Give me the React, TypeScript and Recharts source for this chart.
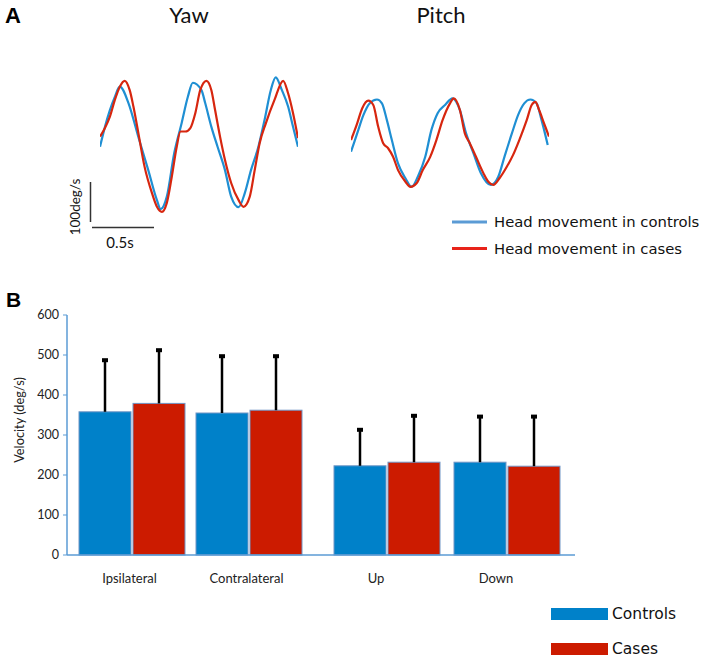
import React from 'react';
import { LineChart, Line, BarChart, Bar, XAxis, YAxis } from 'recharts';

// ---------- Panel A: head-velocity traces (t in s, v in deg/s) ----------
const yawControls = [
  { t: 0.0, v: -7 }, { t: 0.04, v: 44 }, { t: 0.08, v: 87 }, { t: 0.12, v: 121 }, { t: 0.16, v: 147 },
  { t: 0.23, v: 105 }, { t: 0.31, v: 18 }, { t: 0.39, v: -67 }, { t: 0.46, v: -144 }, { t: 0.49, v: -167 },
  { t: 0.54, v: -135 }, { t: 0.6, v: -23 }, { t: 0.66, v: 54 }, { t: 0.71, v: 121 }, { t: 0.75, v: 157 },
  { t: 0.82, v: 138 }, { t: 0.85, v: 105 }, { t: 0.9, v: 44 }, { t: 0.95, v: -7 }, { t: 1.01, v: -67 },
  { t: 1.06, v: -135 }, { t: 1.12, v: -162 }, { t: 1.17, v: -126 }, { t: 1.22, v: -67 }, { t: 1.28, v: -7 },
  { t: 1.33, v: 62 }, { t: 1.38, v: 138 }, { t: 1.42, v: 171 }, { t: 1.47, v: 138 }, { t: 1.52, v: 96 },
  { t: 1.56, v: 44 }, { t: 1.6, v: -7 },
];
const yawCases = [
  { t: 0.0, v: 19 }, { t: 0.04, v: 41 }, { t: 0.08, v: 70 }, { t: 0.12, v: 113 }, { t: 0.16, v: 147 },
  { t: 0.2, v: 162 }, { t: 0.24, v: 138 }, { t: 0.27, v: 96 }, { t: 0.31, v: 28 }, { t: 0.36, v: -58 },
  { t: 0.42, v: -126 }, { t: 0.46, v: -161 }, { t: 0.5, v: -174 }, { t: 0.54, v: -151 }, { t: 0.58, v: -84 },
  { t: 0.62, v: -7 }, { t: 0.65, v: 32 }, { t: 0.69, v: 32 }, { t: 0.73, v: 41 }, { t: 0.77, v: 79 },
  { t: 0.81, v: 138 }, { t: 0.86, v: 162 }, { t: 0.9, v: 138 }, { t: 0.93, v: 87 }, { t: 0.97, v: 19 },
  { t: 1.01, v: -41 }, { t: 1.06, v: -100 }, { t: 1.12, v: -144 }, { t: 1.16, v: -161 }, { t: 1.21, v: -135 },
  { t: 1.25, v: -67 }, { t: 1.29, v: 2 }, { t: 1.34, v: 53 }, { t: 1.41, v: 113 }, { t: 1.48, v: 162 },
  { t: 1.52, v: 130 }, { t: 1.56, v: 79 }, { t: 1.6, v: 15 },
];
const pitchControls = [
  { t: 0.0, v: -25 }, { t: 0.05, v: 22 }, { t: 0.1, v: 69 }, { t: 0.15, v: 99 }, { t: 0.21, v: 109 },
  { t: 0.25, v: 99 }, { t: 0.29, v: 56 }, { t: 0.33, v: 5 }, { t: 0.38, v: -55 }, { t: 0.44, v: -93 },
  { t: 0.49, v: -115 }, { t: 0.54, v: -89 }, { t: 0.6, v: -38 }, { t: 0.65, v: 31 }, { t: 0.7, v: 74 },
  { t: 0.76, v: 95 }, { t: 0.82, v: 112 }, { t: 0.88, v: 82 }, { t: 0.93, v: 22 }, { t: 0.99, v: -29 },
  { t: 1.05, v: -80 }, { t: 1.13, v: -110 }, { t: 1.19, v: -89 }, { t: 1.24, v: -38 }, { t: 1.3, v: 22 },
  { t: 1.35, v: 69 }, { t: 1.4, v: 99 }, { t: 1.45, v: 109 }, { t: 1.5, v: 99 }, { t: 1.54, v: 56 },
  { t: 1.59, v: -8 },
];
const pitchCases = [
  { t: 0.0, v: 5 }, { t: 0.05, v: 48 }, { t: 0.09, v: 86 }, { t: 0.14, v: 106 }, { t: 0.18, v: 95 },
  { t: 0.22, v: 39 }, { t: 0.26, v: -3 }, { t: 0.3, v: -16 }, { t: 0.34, v: -38 }, { t: 0.38, v: -72 },
  { t: 0.44, v: -102 }, { t: 0.48, v: -115 }, { t: 0.53, v: -106 }, { t: 0.58, v: -72 }, { t: 0.64, v: -38 },
  { t: 0.69, v: 5 }, { t: 0.74, v: 56 }, { t: 0.8, v: 99 }, { t: 0.83, v: 112 }, { t: 0.88, v: 82 },
  { t: 0.92, v: 22 }, { t: 0.96, v: -3 }, { t: 1.01, v: -38 }, { t: 1.07, v: -80 }, { t: 1.11, v: -102 },
  { t: 1.15, v: -110 }, { t: 1.2, v: -93 }, { t: 1.26, v: -63 }, { t: 1.31, v: -33 }, { t: 1.36, v: 5 },
  { t: 1.42, v: 56 }, { t: 1.46, v: 95 }, { t: 1.49, v: 103 }, { t: 1.52, v: 82 }, { t: 1.56, v: 48 },
  { t: 1.6, v: 14 },
];

// ---------- Panel B: peak velocity bars ----------
const yawCategories = ['Ipsilateral', 'Contralateral'];
const pitchCategories = ['Up', 'Down'];
const controlsMean = [358, 355, 223, 232];
const casesMean = [379, 362, 232, 222];
const controlsSD = [129, 142, 90, 114];
const casesSD = [133, 135, 116, 124];
const velocityTicks = [0, 100, 200, 300, 400, 500, 600];

const buildRows = (cats: string[], offset: number) =>
  cats.map((c, i) => ({
    category: c,
    controls: controlsMean[i + offset],
    cases: casesMean[i + offset],
    controlsSD: controlsSD[i + offset],
    casesSD: casesSD[i + offset],
  }));
const yawRows = buildRows(yawCategories, 0);
const pitchRows = buildRows(pitchCategories, 2);

const BLUE = '#0081C9';
const RED = '#CC1B00';
const AXIS = '#5B9BD5';
const TRACE_BLUE = '#1F8FD3';
const TRACE_RED = '#D7260F';
const FONT = 'Lato, "Open Sans", sans-serif';

const makeBarShape = (valueKey: string, sdKey: string) => (props: any) => {
  const { x, y, width, height, fill, payload } = props;
  const value = payload[valueKey];
  const sd = payload[sdKey];
  const perUnit = value ? height / value : 0;
  const top = y - sd * perUnit;
  const cx = x + width / 2;
  return (
    <g>
      <rect x={x} y={y} width={width} height={height} fill={fill} stroke="#7196C6" strokeWidth={1} />
      <line x1={cx} x2={cx} y1={y} y2={top} stroke="#000" strokeWidth={2.5} />
      <rect x={cx - 3} y={top - 2} width={6} height={4} fill="#000" />
    </g>
  );
};

const TraceChart = ({ left, top, controls, cases }: any) => (
  <div style={{ position: 'absolute', left, top }}>
    <LineChart width={198} height={156} margin={{ top: 0, right: 0, bottom: 0, left: 0 }}>
      <XAxis type="number" dataKey="t" domain={[0, 1.6]} hide allowDuplicatedCategory={false} />
      <YAxis type="number" domain={[-200, 200]} hide />
      <Line data={controls} dataKey="v" type="monotone" stroke={TRACE_BLUE} strokeWidth={2.2} dot={false} isAnimationActive={false} />
      <Line data={cases} dataKey="v" type="monotone" stroke={TRACE_RED} strokeWidth={2.2} dot={false} isAnimationActive={false} />
    </LineChart>
  </div>
);

export default function App() {
  return (
    <div style={{ position: 'absolute', left: 0, top: 0, width: 705, height: 660, background: '#fff', fontFamily: FONT }}>
      <svg width={705} height={660} style={{ position: 'absolute', left: 0, top: 0 }}>
        <text x={5} y={23} fontFamily='"Liberation Sans", Arial, sans-serif' fontWeight="bold" fontSize={22} fill="#000">A</text>
        <text x={6} y={307} fontFamily='"Liberation Sans", Arial, sans-serif' fontWeight="bold" fontSize={21} fill="#000">B</text>
        <text x={189} y={23} textAnchor="middle" fontFamily={FONT} fontSize={22} fill="#111">Yaw</text>
        <text x={441} y={23} textAnchor="middle" fontFamily={FONT} fontSize={22} fill="#111">Pitch</text>
        {/* scale bars */}
        <line x1={90.5} x2={90.5} y1={182} y2={222} stroke="#333" strokeWidth={1.5} />
        <line x1={92} x2={154} y1={227.5} y2={227.5} stroke="#333" strokeWidth={1.5} />
        <text x={120} y={248} textAnchor="middle" fontFamily={FONT} fontSize={15} fill="#111">0.5s</text>
        <text x={75} y={207} textAnchor="middle" dominantBaseline="central" transform="rotate(-90 75 207)" fontFamily={FONT} fontSize={13.5} fill="#111">100deg/s</text>
        {/* trace legend */}
        <line x1={452} x2={487} y1={222} y2={222} stroke="#5B9BD5" strokeWidth={3} />
        <text x={494} y={221} dominantBaseline="central" fontFamily='"DejaVu Sans", sans-serif' fontSize={14.8} fill="#111">Head movement in controls</text>
        <line x1={452} x2={487} y1={248.5} y2={248.5} stroke="#E8231A" strokeWidth={3} />
        <text x={494} y={248} dominantBaseline="central" fontFamily='"DejaVu Sans", sans-serif' fontSize={14.8} fill="#111">Head movement in cases</text>
        {/* bar legend */}
        <rect x={551} y={608} width={57} height={12} fill={BLUE} />
        <text x={612} y={614} dominantBaseline="central" fontFamily='"DejaVu Sans", sans-serif' fontSize={15.5} fill="#111">Controls</text>
        <rect x={551} y={643} width={57} height={12} fill={RED} />
        <text x={612} y={649} dominantBaseline="central" fontFamily='"DejaVu Sans", sans-serif' fontSize={15.5} fill="#111">Cases</text>
      </svg>

      <TraceChart left={100} top={66} controls={yawControls} cases={yawCases} />
      <TraceChart left={351} top={64} controls={pitchControls} cases={pitchCases} />

      <div style={{ position: 'absolute', left: 0, top: 305 }}>
        <BarChart width={317} height={290} data={yawRows} margin={{ top: 10, right: 0, bottom: 0, left: 0 }} barGap={2} barSize={52}>
          <XAxis dataKey="category" height={40} padding={{ left: 6, right: 10 }} tickLine={false} tickSize={6} tickMargin={13}
            axisLine={{ stroke: AXIS, strokeWidth: 1.5 }} tick={{ fontSize: 13, fill: '#222', fontFamily: FONT, dx: -2 }} interval={0} />
          <YAxis width={67} domain={[0, 600]} ticks={velocityTicks} tickSize={4} tickMargin={4}
            axisLine={{ stroke: AXIS, strokeWidth: 1.5 }} tickLine={{ stroke: AXIS }}
            tick={{ fontSize: 12.5, fill: '#222', fontFamily: FONT }}
            label={{ value: 'Velocity (deg/s)', angle: -90, position: 'insideLeft', offset: 19, dy: -15,
              style: { textAnchor: 'middle', fontSize: 12.8, fill: '#222', fontFamily: FONT } }} />
          <Bar dataKey="controls" fill={BLUE} shape={makeBarShape('controls', 'controlsSD')} isAnimationActive={false} />
          <Bar dataKey="cases" fill={RED} shape={makeBarShape('cases', 'casesSD')} isAnimationActive={false} />
        </BarChart>
      </div>
      <div style={{ position: 'absolute', left: 317, top: 305 }}>
        <BarChart width={258} height={290} data={pitchRows} margin={{ top: 10, right: 0, bottom: 0, left: 0 }} barGap={2} barSize={52}>
          <XAxis dataKey="category" height={40} padding={{ left: 10, right: 8 }} tickLine={false} tickSize={6} tickMargin={13}
            axisLine={{ stroke: AXIS, strokeWidth: 1.5 }} tick={{ fontSize: 13, fill: '#222', fontFamily: FONT, dx: -11 }} interval={0} />
          <YAxis hide domain={[0, 600]} ticks={velocityTicks} />
          <Bar dataKey="controls" fill={BLUE} shape={makeBarShape('controls', 'controlsSD')} isAnimationActive={false} />
          <Bar dataKey="cases" fill={RED} shape={makeBarShape('cases', 'casesSD')} isAnimationActive={false} />
        </BarChart>
      </div>
    </div>
  );
}
